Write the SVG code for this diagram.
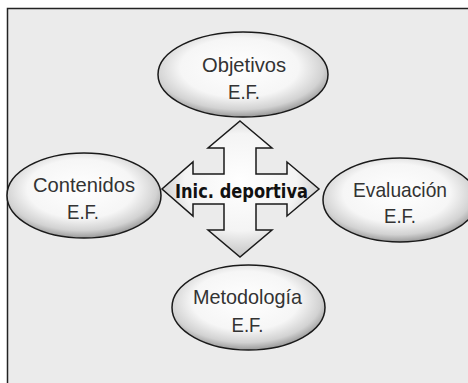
<svg xmlns="http://www.w3.org/2000/svg" width="468" height="383" viewBox="0 0 468 383">
<defs>
<radialGradient id="eg" cx="48%" cy="42%" r="58%">
<stop offset="0" stop-color="#ffffff"/>
<stop offset="0.6" stop-color="#f6f6f6"/>
<stop offset="0.85" stop-color="#d2d2d2"/>
<stop offset="1" stop-color="#9a9a9a"/>
</radialGradient>
<radialGradient id="ag" cx="50%" cy="45%" r="55%">
<stop offset="0" stop-color="#ffffff"/>
<stop offset="0.65" stop-color="#f4f4f4"/>
<stop offset="1" stop-color="#c4c4c4"/>
</radialGradient>
<style>
.node ellipse{fill:url(#eg);stroke:#1a1a1a;stroke-width:1.5}
.lbl{font-family:"Liberation Sans",Arial,sans-serif;font-size:21px;fill:#333;text-anchor:middle}
.ctr{font-family:"DejaVu Sans",Verdana,sans-serif;font-weight:bold;font-size:19px;fill:#111;text-anchor:middle}
</style>
</defs>
<rect x="0" y="0" width="468" height="383" fill="#ffffff"/>
<rect x="7.5" y="8.5" width="470" height="390" fill="#ebebeb" stroke="#222" stroke-width="1.5"/>
<g id="connectors">
<polygon points="240,121 272,148 256,148 256,174 287,174 287,162 319,189 287,216 287,204 256,204 256,230 272,230 240,257 208,230 224,230 224,204 193,204 193,216 162,189 193,162 193,174 224,174 224,148 208,148" fill="url(#ag)" stroke="#1a1a1a" stroke-width="1.5" stroke-linejoin="miter"/>
</g>
<g id="center">
<text class="ctr" x="241.5" y="198" textLength="133" lengthAdjust="spacingAndGlyphs">Inic. deportiva</text>
</g>
<g id="objetivos" class="node">
<ellipse cx="243" cy="74.5" rx="85" ry="42.5"/>
<text class="lbl" x="244" y="72" textLength="84" lengthAdjust="spacingAndGlyphs">Objetivos</text>
<text class="lbl" x="244" y="99" textLength="32" lengthAdjust="spacingAndGlyphs">E.F.</text>
</g>
<g id="contenidos" class="node">
<ellipse cx="84" cy="195.5" rx="77" ry="42.5"/>
<text class="lbl" x="84" y="192" textLength="102" lengthAdjust="spacingAndGlyphs">Contenidos</text>
<text class="lbl" x="83" y="219" textLength="32" lengthAdjust="spacingAndGlyphs">E.F.</text>
</g>
<g id="evaluacion" class="node">
<ellipse cx="400" cy="200" rx="77" ry="42"/>
<text class="lbl" x="400" y="197" textLength="94" lengthAdjust="spacingAndGlyphs">Evaluación</text>
<text class="lbl" x="400" y="223" textLength="32" lengthAdjust="spacingAndGlyphs">E.F.</text>
</g>
<g id="metodologia" class="node">
<ellipse cx="248.5" cy="307.5" rx="76.5" ry="42.5"/>
<text class="lbl" x="247.5" y="304" textLength="109" lengthAdjust="spacingAndGlyphs">Metodología</text>
<text class="lbl" x="247.5" y="332" textLength="32" lengthAdjust="spacingAndGlyphs">E.F.</text>
</g>
</svg>
